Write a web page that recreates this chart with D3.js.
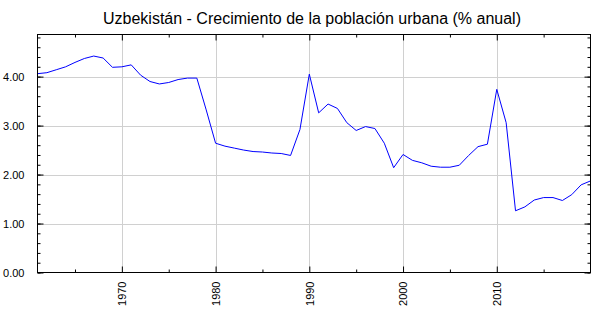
<!DOCTYPE html>
<html>
  <head>
    <meta charset="utf-8">
    <title>Uzbekistán - Crecimiento de la población urbana</title>
    <script src="https://cdn.jsdelivr.net/npm/d3@7"></script>
    <style>
      body { margin: 0; background: #fff; }
      svg { font-family: "Liberation Sans", Arial, sans-serif; }
      .grid line { stroke: #d0d0d0; stroke-width: 1; }
      .axis path, .axis line { stroke: #000; }
      .axis text { font-size: 11px; fill: #000; }
    </style>
  </head>
  <body>
    <svg id="chart" width="600" height="315"></svg>

    <script>
      // data
      years = d3.range(1961, 2021);
      growth = [
        4.06, 4.08, 4.14, 4.20, 4.29, 4.37, 4.42, 4.38, 4.19, 4.20,
        4.24, 4.03, 3.90, 3.85, 3.88, 3.94, 3.97, 3.97, 3.32, 2.64,
        2.58, 2.54, 2.50, 2.47, 2.46, 2.44, 2.43, 2.39, 2.92, 4.05,
        3.26, 3.44, 3.35, 3.06, 2.90, 2.98, 2.94, 2.64, 2.14, 2.41,
        2.29, 2.24, 2.17, 2.15, 2.15, 2.19, 2.39, 2.57, 2.62, 3.74,
        3.06, 1.26, 1.34, 1.48, 1.53, 1.53, 1.47, 1.59, 1.79, 1.87
      ];
      yearTicks = [1970, 1980, 1990, 2000, 2010];
      yearMinor = [1965, 1975, 1985, 1995, 2005, 2015];
      valueTicks = [0, 1, 2, 3, 4];
      valueMinor = d3.range(0, 4.9, 0.2);

      // layout (window.top is reserved, so prefix the plot edges)
      svg = d3.select("#chart");
      plotL = 37.5, plotR = 590.5, plotT = 34.5, plotB = 272.5;

      x = d3.scaleLinear()
        .domain([1961, 2020])
        .range([plotL, plotR]);
      y = d3.scaleLinear()
        .domain([0, 4.86])
        .range([plotB, plotT]);

      // title
      svg.append("text")
        .attr("x", 312)
        .attr("y", 24)
        .attr("text-anchor", "middle")
        .style("font-size", "16px")
        .text("Uzbekistán - Crecimiento de la población urbana (% anual)");

      // grid
      grid = svg.append("g").attr("class", "grid");
      grid.selectAll(".gx")
        .data(yearTicks)
      .enter().append("line")
        .attr("x1", function(d) { return Math.round(x(d)) + 0.5; })
        .attr("x2", function(d) { return Math.round(x(d)) + 0.5; })
        .attr("y1", plotT)
        .attr("y2", plotB);
      grid.selectAll(".gy")
        .data(valueTicks.slice(1))
      .enter().append("line")
        .attr("x1", plotL)
        .attr("x2", plotR)
        .attr("y1", function(d) { return Math.round(y(d)) + 0.5; })
        .attr("y2", function(d) { return Math.round(y(d)) + 0.5; });

      // line
      line = d3.line()
        .x(function(d, i) { return x(years[i]); })
        .y(function(d) { return y(d); });
      svg.append("path")
        .datum(growth)
        .attr("fill", "none")
        .attr("stroke", "#0000ff")
        .attr("stroke-width", 1)
        .attr("d", line);

      // frame
      svg.append("rect")
        .attr("x", plotL)
        .attr("y", plotT)
        .attr("width", plotR - plotL)
        .attr("height", plotB - plotT)
        .attr("fill", "none")
        .attr("stroke", "#000");

      // bottom axis
      bottomAxis = svg.append("g").attr("class", "axis")
        .attr("transform", "translate(0," + plotB + ")")
        .call(d3.axisBottom(x).tickValues(yearTicks).tickSize(-6).tickFormat(d3.format("d")));
      bottomAxis.select(".domain").remove();
      bottomAxis.selectAll("text")
        .attr("transform", "rotate(-90)")
        .attr("x", -9)
        .attr("y", 0)
        .attr("dy", "0.35em")
        .attr("text-anchor", "end");
      svg.append("g").attr("class", "axis")
        .attr("transform", "translate(0," + plotB + ")")
        .call(d3.axisBottom(x).tickValues(yearMinor).tickSize(-3).tickFormat(""))
        .select(".domain").remove();

      // top axis
      svg.append("g").attr("class", "axis")
        .attr("transform", "translate(0," + plotT + ")")
        .call(d3.axisTop(x).tickValues(yearTicks).tickSize(-6).tickFormat(""))
        .select(".domain").remove();
      svg.append("g").attr("class", "axis")
        .attr("transform", "translate(0," + plotT + ")")
        .call(d3.axisTop(x).tickValues(yearMinor).tickSize(-3).tickFormat(""))
        .select(".domain").remove();

      // left axis
      leftAxis = svg.append("g").attr("class", "axis")
        .attr("transform", "translate(" + plotL + ",0)")
        .call(d3.axisLeft(y).tickValues(valueTicks).tickSize(-6).tickPadding(13).tickFormat(d3.format(".2f")));
      leftAxis.select(".domain").remove();
      svg.append("g").attr("class", "axis")
        .attr("transform", "translate(" + plotL + ",0)")
        .call(d3.axisLeft(y).tickValues(valueMinor).tickSize(-3).tickFormat(""))
        .select(".domain").remove();

      // right axis
      svg.append("g").attr("class", "axis")
        .attr("transform", "translate(" + plotR + ",0)")
        .call(d3.axisRight(y).tickValues(valueTicks).tickSize(-6).tickFormat(""))
        .select(".domain").remove();
      svg.append("g").attr("class", "axis")
        .attr("transform", "translate(" + plotR + ",0)")
        .call(d3.axisRight(y).tickValues(valueMinor).tickSize(-3).tickFormat(""))
        .select(".domain").remove();
    </script>
  </body>
</html>
